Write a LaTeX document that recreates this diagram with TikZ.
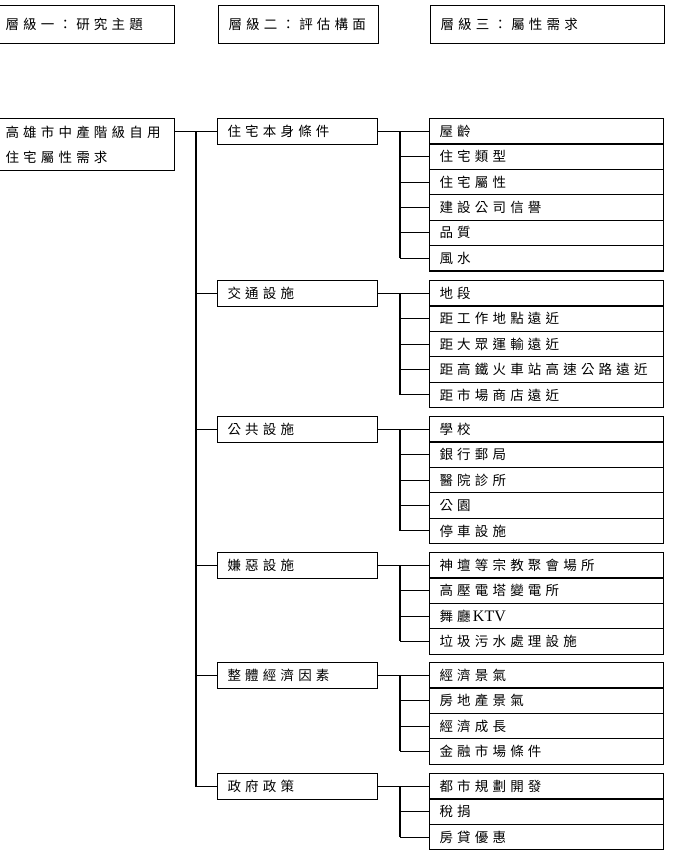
\documentclass[tikz,border=0pt]{standalone}
\usepackage{fontspec}
\newfontfamily\cjk[LetterSpace=31]{Noto Sans CJK TC}
\newfontfamily\ktv{Liberation Serif}
\begin{document}
\begin{tikzpicture}[x=1pt,y=-1pt,
  box/.style={draw, line width=1.1pt, anchor=north west, inner xsep=10pt, inner ysep=0pt,
    align=left, font=\cjk\fontsize{13.5}{16}\selectfont},
  lvtwo/.style={box, minimum height=26pt, text width=140pt},
  cell/.style={box, minimum height=25.4pt, text width=214pt},
  conn/.style={line width=1.1pt}]
\useasboundingbox (0,0) rectangle (675,855);
% header boxes
\node[box, minimum height=38pt, text width=163pt, inner xsep=6pt] (h1) at (-1,5) {層級一：研究主題};
\node[box, minimum height=38pt, text width=140pt] (h2) at (218,5) {層級二：評估構面};
\node[box, minimum height=38pt, text width=214pt] (h3) at (430,5) {層級三：屬性需求};
% root
\node[box, minimum height=52pt, text width=163pt, inner xsep=6pt,
  font=\cjk\fontsize{13.5}{25}\selectfont] (root) at (-1,118) {高雄市中產階級自用\\住宅屬性需求};
% level 2
\node[lvtwo] (g1) at (217,118) {住宅本身條件};
\node[lvtwo] (g2) at (217,280) {交通設施};
\node[lvtwo] (g3) at (217,416) {公共設施};
\node[lvtwo] (g4) at (217,552) {嫌惡設施};
\node[lvtwo] (g5) at (217,662) {整體經濟因素};
\node[lvtwo] (g6) at (217,773) {政府政策};
% level 3
\foreach \t [count=\i] in {屋齡,住宅類型,住宅屬性,建設公司信譽,品質,風水}
  \node[cell] (g1r\i) at (429,{118+(\i-1)*25.4}) {\t};
\foreach \t [count=\i] in {地段,距工作地點遠近,距大眾運輸遠近,距高鐵火車站高速公路遠近,距市場商店遠近}
  \node[cell] (g2r\i) at (429,{280+(\i-1)*25.4}) {\t};
\foreach \t [count=\i] in {學校,銀行郵局,醫院診所,公園,停車設施}
  \node[cell] (g3r\i) at (429,{416+(\i-1)*25.4}) {\t};
\foreach \t [count=\i] in {神壇等宗教聚會場所,高壓電塔變電所,{舞廳\,{\ktv\fontsize{16}{16}\selectfont KTV}},垃圾污水處理設施}
  \node[cell] (g4r\i) at (429,{552+(\i-1)*25.4}) {\t};
\foreach \t [count=\i] in {經濟景氣,房地產景氣,經濟成長,金融市場條件}
  \node[cell] (g5r\i) at (429,{662+(\i-1)*25.4}) {\t};
\foreach \t [count=\i] in {都市規劃開發,稅捐,房貸優惠}
  \node[cell] (g6r\i) at (429,{773+(\i-1)*25.4}) {\t};
% trunk
\coordinate (tk) at (196,0);
\coordinate (br) at (400,0);
\draw[conn] (g1.west -| root.east) -- (g1.west);
\draw[conn] (g1.west -| tk) -- (g6.west -| tk);
\foreach \g in {g2,g3,g4,g5,g6}
  \draw[conn] (\g.west -| tk) -- (\g.west);
% branches
\foreach \g/\n in {g1/6,g2/5,g3/5,g4/4,g5/4,g6/3}{
  \draw[conn] (\g.east) -- (\g.east -| \g r1.west);
  \draw[conn] (\g.east -| br) -- (\g r\n.west -| br);
  \foreach \i in {2,...,\n}
    \draw[conn] (\g r\i.west -| br) -- (\g r\i.west);
}
\end{tikzpicture}
\end{document}
